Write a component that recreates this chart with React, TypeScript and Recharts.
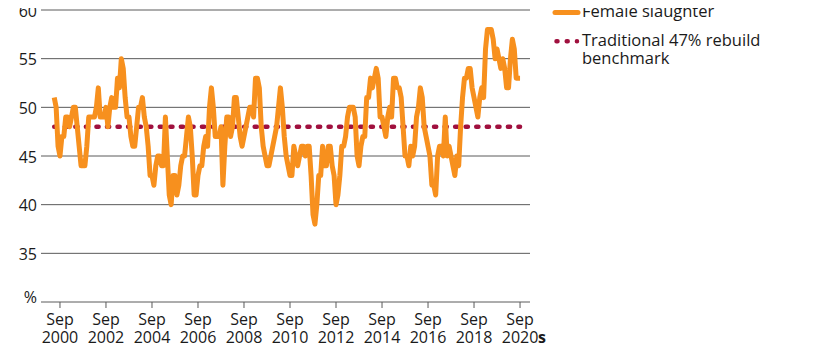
import React from "react";
import { LineChart, Line, XAxis, YAxis, CartesianGrid } from "recharts";

// Monthly female slaughter share (%), Jun 2000 .. Sep 2020
const femaleSlaughter: number[] = [
  51, 50, 46, 45, 47, 47, 49, 49, 48, 49, 50, 50, 48, 46, 44, 44, 44, 46, 49, 49,
  49, 49, 50, 52, 49, 49, 49, 50, 48, 50, 51, 50, 50, 53, 52, 55, 54, 51, 49, 49,
  47, 46, 46, 48, 50, 50, 51, 49, 48, 46, 43, 43, 42, 44, 45, 45, 44, 44, 49, 45,
  41, 40, 43, 43, 41, 42, 44, 45, 45, 47, 49, 48, 45, 41, 41, 43, 44, 44, 46, 47,
  46, 50, 52, 50, 47, 47, 47, 48, 42, 46, 49, 49, 47, 48, 51, 51, 49, 47, 46, 47,
  48, 49, 50, 50, 49, 53, 53, 52, 48, 46, 45, 44, 44, 45, 46, 47, 48, 50, 52, 50,
  47, 45, 44, 43, 43, 46, 45, 44, 45, 46, 46, 45, 46, 46, 43, 39, 38, 40, 43, 43,
  46, 44, 44, 46, 46, 44, 43, 40, 41, 43, 46, 46, 47, 49, 50, 50, 50, 49, 45, 44,
  46, 47, 47, 51, 51, 53, 52, 53, 54, 53, 49, 49, 48, 47, 49, 50, 49, 53, 53, 52,
  52, 51, 48, 45, 45, 44, 46, 45, 46, 49, 50, 52, 51, 48, 47, 46, 45, 42, 42, 41,
  45, 46, 46, 45, 49, 45, 46, 45, 44, 43, 45, 44, 48, 51, 53, 53, 54, 54, 52, 51,
  50, 49, 51, 52, 51, 56, 58, 58, 58, 57, 55, 56, 55, 54, 55, 54, 52, 52, 55, 57,
  56, 53, 53, 53,
];

const benchmarkValue = 48;

const tickMonthIndex: number[] = [3, 27, 51, 75, 99, 123, 147, 171, 195, 219, 243];
const tickMonth: string[] = ["Sep", "Sep", "Sep", "Sep", "Sep", "Sep", "Sep", "Sep", "Sep", "Sep", "Sep"];
const tickYear: string[] = ["2000", "2002", "2004", "2006", "2008", "2010", "2012", "2014", "2016", "2018", "2020"];

const yTicks: number[] = [30, 35, 40, 45, 50, 55, 60];

const seriesNames = ["Female slaughter", "Traditional 47% rebuild", "benchmark"];

const data = femaleSlaughter.map((v, i) => ({ i, v, b: benchmarkValue }));

const FONT = "'Open Sans', sans-serif";
const TEXT = "#1a1a1a";
const ORANGE = "#f7901e";
const RED = "#a0103e";

const XTick = (props: any) => {
  const { x, y, payload } = props;
  const k = tickMonthIndex.indexOf(payload.value);
  const last = k === tickMonthIndex.length - 1;
  return (
    <g>
      <text x={x} y={y + 15} textAnchor="middle" fontSize={16} fontFamily={FONT} fill={TEXT}>
        {tickMonth[k]}
      </text>
      <text x={x} y={y + 32.5} textAnchor="middle" fontSize={16} fontFamily={FONT} fill={TEXT}>
        {tickYear[k]}
      </text>
      {last && (
        <text x={x + 18} y={y + 32.5} textAnchor="start" fontSize={16} fontWeight="bold" fontFamily={FONT} fill={TEXT}>
          s
        </text>
      )}
    </g>
  );
};

const YTick = (props: any) => {
  const { x, y, payload } = props;
  const isPct = payload.value === 30;
  return (
    <text x={x} y={y} dy={isPct ? 1 : 6.7} textAnchor="end" fontSize={16} fontFamily={FONT} fill={TEXT}>
      {isPct ? "%" : payload.value}
    </text>
  );
};

const LegendBox = () => (
  <div
    style={{
      position: "absolute",
      left: 552,
      top: 0,
      width: 262,
      fontFamily: FONT,
      fontSize: 16.5,
      color: TEXT,
    }}
  >
    <div style={{ display: "flex", alignItems: "flex-start", lineHeight: "22.5px", height: 22.5 }}>
      <svg width={30} height={22} style={{ flex: "none" }}>
        <line x1={3} y1={12.5} x2={26} y2={12.5} stroke={ORANGE} strokeWidth={5} strokeLinecap="round" />
      </svg>
      <span>{seriesNames[0]}</span>
    </div>
    <div style={{ display: "flex", alignItems: "flex-start", lineHeight: "18.5px", marginTop: 8.25 }}>
      <svg width={30} height={19} style={{ flex: "none" }}>
        <line x1={4.5} y1={10.25} x2={25} y2={10.25} stroke={RED} strokeWidth={4.5} strokeLinecap="round" strokeDasharray="1 9.2" />
      </svg>
      <span>
        {seriesNames[1]}
        <br />
        {seriesNames[2]}
      </span>
    </div>
  </div>
);

export default function App() {
  return (
    <div style={{ position: "relative", left: -8, top: -8, width: 816, height: 357 }}>
      <LineChart width={816} height={357} data={data} margin={{ top: 10, right: 286, bottom: 0, left: 0 }}>
        <CartesianGrid horizontal vertical={false} stroke="#5a5a5a" strokeWidth={1} />
        <XAxis
          dataKey="i"
          type="number"
          domain={[-6.9, 248.2]}
          ticks={tickMonthIndex}
          tick={<XTick />}
          tickLine={{ stroke: "#5a5a5a" }}
          tickSize={6}
          tickMargin={2}
          axisLine={false}
          height={55}
          interval={0}
        />
        <YAxis
          type="number"
          domain={[30, 60]}
          ticks={yTicks}
          tick={<YTick />}
          tickLine={false}
          axisLine={false}
          tickSize={4}
          tickMargin={0}
          width={41}
          interval={0}
        />
        <Line
          dataKey="b"
          stroke={RED}
          strokeWidth={4.5}
          strokeLinecap="round"
          strokeDasharray="2.2 8.35"
          dot={false}
          isAnimationActive={false}
        />
        <Line
          dataKey="v"
          stroke={ORANGE}
          strokeWidth={5}
          strokeLinejoin="round"
          dot={false}
          isAnimationActive={false}
        />
      </LineChart>
      <LegendBox />
    </div>
  );
}
